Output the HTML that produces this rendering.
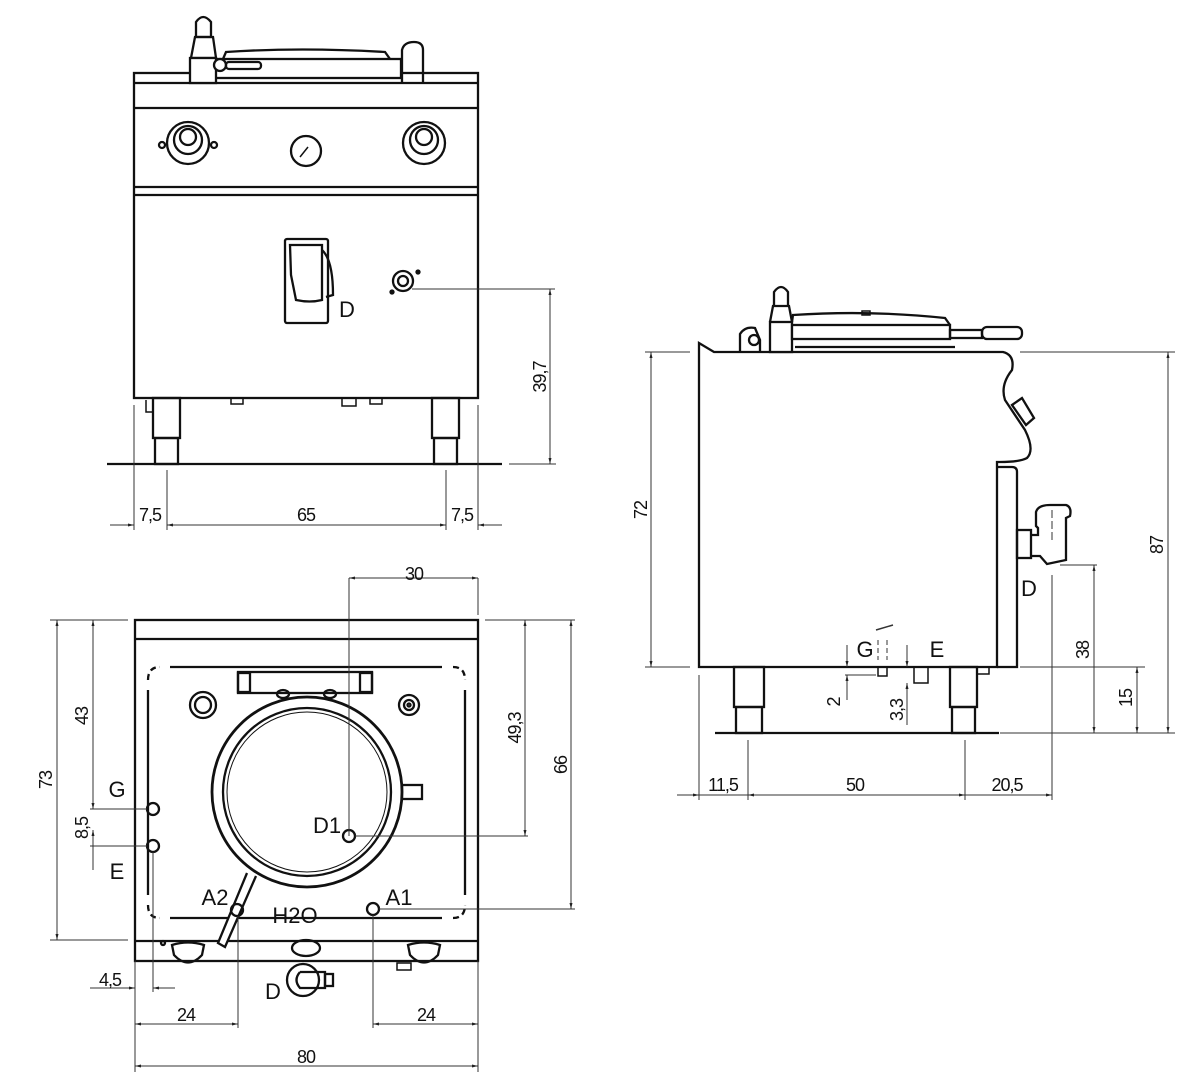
<!DOCTYPE html>
<html><head><meta charset="utf-8"><style>
html,body{margin:0;padding:0;background:#fff}
svg{display:block}
text{font-family:"Liberation Sans",sans-serif;fill:#111}
.d{font-size:18px;letter-spacing:-1px}
.l{font-size:22px}
</style></head><body>
<svg width="1200" height="1080" viewBox="0 0 1200 1080" xmlns="http://www.w3.org/2000/svg">
<defs>
<marker id="a" viewBox="0 0 10 10" refX="10" refY="5" markerWidth="12" markerHeight="6" orient="auto-start-reverse" markerUnits="userSpaceOnUse"><path d="M0,2.5 L10,5 L0,7.5 z" fill="#222"/></marker>
</defs>
<g fill="none" stroke="#111" stroke-width="2.3">
<rect x="134" y="73" width="344" height="325"/>
<line x1="134" y1="83" x2="478" y2="83"/>
<line x1="134" y1="108" x2="478" y2="108"/>
<line x1="134" y1="187" x2="478" y2="187"/>
<line x1="134" y1="195" x2="478" y2="195"/>
<path d="M223,59 L226,52 Q300,47 385,52 L390,59"/>
<rect x="213" y="59" width="188" height="19" fill="#fff"/>
<path d="M196,37 L196,22 Q203,12 211,22 L211,37 Z"/>
<path d="M191,58 L195,37 L213,37 L216,58 Z"/>
<rect x="190" y="58" width="26" height="25" fill="#fff"/>
<circle cx="220" cy="65" r="6" fill="#fff"/>
<rect x="226" y="62" width="35" height="7" rx="3"/>
<path d="M402,83 L402,50 Q404,42 414,42 Q423,42 423,50 L423,83"/>
<circle cx="188" cy="143" r="21"/><circle cx="188" cy="140" r="14"/><circle cx="188" cy="137" r="8"/>
<circle cx="162" cy="145" r="3"/><circle cx="214" cy="145" r="3"/>
<circle cx="424" cy="143" r="21"/><circle cx="424" cy="140" r="14"/><circle cx="424" cy="137" r="8"/>
<circle cx="306" cy="151" r="15"/><line x1="300" y1="157" x2="308" y2="147" stroke-width="1.5"/>
<rect x="285" y="239" width="43" height="84" rx="2"/>
<path d="M290,245 L322,245 L322,300 Q310,303 296,300 L291,275 Z"/>
<path d="M322,250 Q333,260 333,295 L326,297"/>
<circle cx="403" cy="281" r="10"/><circle cx="403" cy="281" r="5"/>
<circle cx="392" cy="292" r="1.5" fill="#111"/><circle cx="418" cy="272" r="1.5" fill="#111"/>
<rect x="153" y="398" width="27" height="40"/><rect x="155" y="438" width="23" height="26"/>
<rect x="432" y="398" width="27" height="40"/><rect x="434" y="438" width="23" height="26"/>
<rect x="231" y="398" width="12" height="6" stroke-width="1.5"/>
<rect x="342" y="398" width="14" height="8" stroke-width="1.5"/>
<rect x="370" y="398" width="12" height="6" stroke-width="1.5"/>
<path d="M146,400 L146,412 L152,412" stroke-width="1.5"/>
<line x1="107" y1="464" x2="502" y2="464"/>
</g>
<g fill="none" stroke="#333" stroke-width="1">
<line x1="412" y1="289" x2="555" y2="289"/>
<line x1="509" y1="464" x2="556" y2="464"/>
<line x1="550" y1="289" x2="550" y2="464" marker-start="url(#a)" marker-end="url(#a)"/>
<line x1="134" y1="405" x2="134" y2="530"/><line x1="167" y1="470" x2="167" y2="530"/>
<line x1="446" y1="470" x2="446" y2="530"/><line x1="478" y1="405" x2="478" y2="530"/>
<line x1="110" y1="525" x2="134" y2="525" marker-end="url(#a)"/>
<line x1="167" y1="525" x2="446" y2="525" marker-start="url(#a)" marker-end="url(#a)"/>
<line x1="502" y1="525" x2="478" y2="525" marker-end="url(#a)"/>
</g>
<text x="347" y="317" class="l" text-anchor="middle">D</text>
<text x="150" y="521" class="d" text-anchor="middle">7,5</text>
<text x="306" y="521" class="d" text-anchor="middle">65</text>
<text x="462" y="521" class="d" text-anchor="middle">7,5</text>
<text transform="translate(546,377) rotate(-90)" class="d" text-anchor="middle">39,7</text>

<g fill="none" stroke="#111" stroke-width="2.3">
<rect x="135" y="620" width="343" height="341"/>
<line x1="135" y1="639" x2="478" y2="639"/>
<line x1="135" y1="941" x2="478" y2="941"/>
<line x1="170" y1="667" x2="442" y2="667"/>
<line x1="170" y1="918" x2="442" y2="918"/>
<line x1="148" y1="690" x2="148" y2="895"/>
<line x1="465" y1="690" x2="465" y2="895"/>
<path d="M148,680 Q148,667 160,667" stroke-dasharray="6,4"/>
<path d="M453,667 Q465,667 465,680" stroke-dasharray="6,4"/>
<path d="M148,905 Q148,918 160,918" stroke-dasharray="6,4"/>
<path d="M453,918 Q465,918 465,905" stroke-dasharray="6,4"/>
<rect x="238" y="672" width="134" height="21" fill="#fff"/>
<rect x="238" y="673" width="12" height="19"/><rect x="360" y="673" width="12" height="19"/>
<ellipse cx="283" cy="694" rx="6" ry="4"/><ellipse cx="330" cy="694" rx="6" ry="4"/>
<circle cx="203" cy="705" r="13"/><circle cx="203" cy="705" r="8"/>
<circle cx="409" cy="705" r="10"/><circle cx="409" cy="705" r="5"/><circle cx="409" cy="705" r="1.5"/>
<circle cx="307" cy="792" r="95" stroke-width="2.8"/>
<circle cx="307" cy="792" r="84"/>
<circle cx="307" cy="792" r="80" stroke-width="1"/>
<rect x="402" y="785" width="20" height="14"/>
<path d="M247,873 L218,943 L225,947 L256,876" fill="#fff"/>
<circle cx="153" cy="809" r="6"/><circle cx="153" cy="846" r="6"/>
<circle cx="349" cy="836" r="6"/>
<circle cx="237" cy="910" r="6"/>
<circle cx="373" cy="909" r="6"/>
<path d="M172,945 Q188,940 204,945 L202,955 Q188,970 174,955 Z"/>
<path d="M408,945 Q424,940 440,945 L438,955 Q424,970 410,955 Z"/>
<circle cx="163" cy="943" r="2"/>
<ellipse cx="306" cy="948" rx="14" ry="8"/>
<circle cx="303" cy="980" r="16"/>
<path d="M300,972 L325,972 L325,988 L300,988 Q293,980 300,972"/>
<rect x="325" y="974" width="8" height="12"/>
<rect x="397" y="963" width="14" height="7" stroke-width="1.5"/>
</g>
<g fill="none" stroke="#333" stroke-width="1">
<line x1="349" y1="578" x2="349" y2="836"/>
<line x1="478" y1="578" x2="478" y2="615"/>
<line x1="349" y1="578" x2="478" y2="578" marker-start="url(#a)" marker-end="url(#a)"/>
<line x1="355" y1="836" x2="528" y2="836"/>
<line x1="485" y1="620" x2="575" y2="620"/>
<line x1="525" y1="620" x2="525" y2="836" marker-start="url(#a)" marker-end="url(#a)"/>
<line x1="379" y1="909" x2="575" y2="909"/>
<line x1="571" y1="620" x2="571" y2="909" marker-start="url(#a)" marker-end="url(#a)"/>
<line x1="50" y1="620" x2="128" y2="620"/>
<line x1="50" y1="940" x2="128" y2="940"/>
<line x1="57" y1="620" x2="57" y2="940" marker-start="url(#a)" marker-end="url(#a)"/>
<line x1="93" y1="620" x2="93" y2="809" marker-start="url(#a)" marker-end="url(#a)"/>
<line x1="90" y1="809" x2="147" y2="809"/>
<line x1="90" y1="846" x2="147" y2="846"/>
<line x1="93" y1="846" x2="93" y2="870" />
<line x1="93" y1="846" x2="93" y2="830" marker-end="url(#a)"/>
<line x1="153" y1="852" x2="153" y2="992"/>
<line x1="90" y1="988" x2="135" y2="988" marker-end="url(#a)"/>
<line x1="175" y1="988" x2="153" y2="988" marker-end="url(#a)"/>
<line x1="135" y1="961" x2="135" y2="1072"/>
<line x1="478" y1="961" x2="478" y2="1072"/>
<line x1="238" y1="916" x2="238" y2="1028"/>
<line x1="373" y1="915" x2="373" y2="1028"/>
<line x1="135" y1="1024" x2="238" y2="1024" marker-start="url(#a)" marker-end="url(#a)"/>
<line x1="373" y1="1024" x2="478" y2="1024" marker-start="url(#a)" marker-end="url(#a)"/>
<line x1="135" y1="1066" x2="478" y2="1066" marker-start="url(#a)" marker-end="url(#a)"/>
</g>
<text x="414" y="580" class="d" text-anchor="middle">30</text>
<text transform="translate(521,728) rotate(-90)" class="d" text-anchor="middle">49,3</text>
<text transform="translate(567,765) rotate(-90)" class="d" text-anchor="middle">66</text>
<text transform="translate(52,780) rotate(-90)" class="d" text-anchor="middle">73</text>
<text transform="translate(88,716) rotate(-90)" class="d" text-anchor="middle">43</text>
<text transform="translate(88,828) rotate(-90)" class="d" text-anchor="middle">8,5</text>
<text x="117" y="797" class="l" text-anchor="middle">G</text>
<text x="117" y="879" class="l" text-anchor="middle">E</text>
<text x="327" y="833" class="l" text-anchor="middle">D1</text>
<text x="215" y="905" class="l" text-anchor="middle">A2</text>
<text x="399" y="905" class="l" text-anchor="middle">A1</text>
<text x="295" y="923" class="l" text-anchor="middle">H2O</text>
<text x="273" y="999" class="l" text-anchor="middle">D</text>
<text x="110" y="986" class="d" text-anchor="middle">4,5</text>
<text x="186" y="1021" class="d" text-anchor="middle">24</text>
<text x="426" y="1021" class="d" text-anchor="middle">24</text>
<text x="306" y="1063" class="d" text-anchor="middle">80</text>

<g fill="none" stroke="#111" stroke-width="2.3">
<path d="M699,667 L699,343 L714,352 L1003,352 Q1015,355 1012,370 Q1000,385 1005,400 Q1015,415 1025,430 Q1035,450 1027,458 Q1020,462 1000,462 L997,462 L997,667 Z"/>
<path d="M997,467 L1012,467 Q1017,467 1017,472 L1017,667 L997,667"/>
<path d="M740,352 L740,334 Q745,326 755,328 L760,340 L760,352"/>
<circle cx="754" cy="340" r="5"/>
<rect x="770" y="322" width="22" height="30" fill="#fff"/>
<path d="M770,322 L773,306 L789,306 L792,322"/>
<path d="M774,306 L774,292 Q781,282 788,292 L788,306"/>
<path d="M792,322 L793,315 Q870,310 945,318 L950,325"/>
<rect x="792" y="325" width="158" height="14" fill="#fff"/>
<line x1="795" y1="347" x2="955" y2="347"/>
<rect x="950" y="330" width="32" height="8"/>
<rect x="982" y="327" width="40" height="12" rx="5"/>
<rect x="862" y="311" width="8" height="4" stroke-width="1.5"/>
<path d="M1012,405 L1022,398 L1034,418 L1026,425 Z"/>
<rect x="1017" y="530" width="14" height="28"/>
<path d="M1031,535 L1038,535 L1038,528 L1036,526 L1036,512 Q1038,505 1050,505 L1066,505 Q1072,507 1070,516 L1066,518 L1066,560 L1047,564 L1040,556 L1031,556"/>
<rect x="734" y="667" width="30" height="40"/><rect x="736" y="707" width="26" height="26"/>
<rect x="950" y="667" width="27" height="40"/><rect x="952" y="707" width="23" height="26"/>
<rect x="878" y="667" width="9" height="9" stroke-width="1.5"/>
<rect x="914" y="667" width="14" height="16" stroke-width="1.5"/>
<rect x="977" y="667" width="12" height="7" stroke-width="1.5"/>
<line x1="715" y1="733" x2="999" y2="733"/>
</g>
<g fill="none" stroke="#333" stroke-width="1">
<line x1="878" y1="640" x2="878" y2="660" stroke-dasharray="5,3"/>
<line x1="887" y1="640" x2="887" y2="660" stroke-dasharray="5,3"/>
<line x1="876" y1="630" x2="893" y2="625" stroke-width="1.5"/>
<line x1="645" y1="352" x2="690" y2="352"/>
<line x1="1020" y1="352" x2="1175" y2="352"/>
<line x1="645" y1="667" x2="690" y2="667"/>
<line x1="1020" y1="667" x2="1145" y2="667"/>
<line x1="651" y1="352" x2="651" y2="667" marker-start="url(#a)" marker-end="url(#a)"/>
<line x1="1060" y1="565" x2="1097" y2="565"/>
<line x1="1000" y1="733" x2="1175" y2="733"/>
<line x1="1168" y1="352" x2="1168" y2="733" marker-start="url(#a)" marker-end="url(#a)"/>
<line x1="1094" y1="565" x2="1094" y2="733" marker-start="url(#a)" marker-end="url(#a)"/>
<line x1="1137" y1="667" x2="1137" y2="733" marker-start="url(#a)" marker-end="url(#a)"/>
<line x1="1052" y1="510" x2="1052" y2="540" stroke-dasharray="8,3"/>
<line x1="1052" y1="575" x2="1052" y2="800"/>
<line x1="845" y1="675" x2="876" y2="675"/>
<line x1="847" y1="645" x2="847" y2="667" marker-end="url(#a)"/>
<line x1="847" y1="700" x2="847" y2="675" marker-end="url(#a)"/>
<line x1="907" y1="645" x2="907" y2="667" marker-end="url(#a)"/>
<line x1="907" y1="725" x2="907" y2="683" marker-end="url(#a)"/>
<line x1="699" y1="675" x2="699" y2="800"/>
<line x1="748" y1="740" x2="748" y2="800"/>
<line x1="965" y1="740" x2="965" y2="800"/>
<line x1="677" y1="795" x2="699" y2="795" marker-end="url(#a)"/>
<line x1="699" y1="795" x2="748" y2="795"/>
<line x1="748" y1="795" x2="965" y2="795" marker-start="url(#a)" marker-end="url(#a)"/>
<line x1="965" y1="795" x2="1052" y2="795" marker-end="url(#a)"/>
</g>
<text x="865" y="657" class="l" text-anchor="middle">G</text>
<text x="937" y="657" class="l" text-anchor="middle">E</text>
<text x="1029" y="596" class="l" text-anchor="middle">D</text>
<text transform="translate(840,702) rotate(-90)" class="d" text-anchor="middle">2</text>
<text transform="translate(903,710) rotate(-90)" class="d" text-anchor="middle">3,3</text>
<text transform="translate(647,510) rotate(-90)" class="d" text-anchor="middle">72</text>
<text transform="translate(1163,545) rotate(-90)" class="d" text-anchor="middle">87</text>
<text transform="translate(1089,650) rotate(-90)" class="d" text-anchor="middle">38</text>
<text transform="translate(1132,698) rotate(-90)" class="d" text-anchor="middle">15</text>
<text x="723" y="791" class="d" text-anchor="middle">11,5</text>
<text x="855" y="791" class="d" text-anchor="middle">50</text>
<text x="1007" y="791" class="d" text-anchor="middle">20,5</text>
</svg>
</body></html>
